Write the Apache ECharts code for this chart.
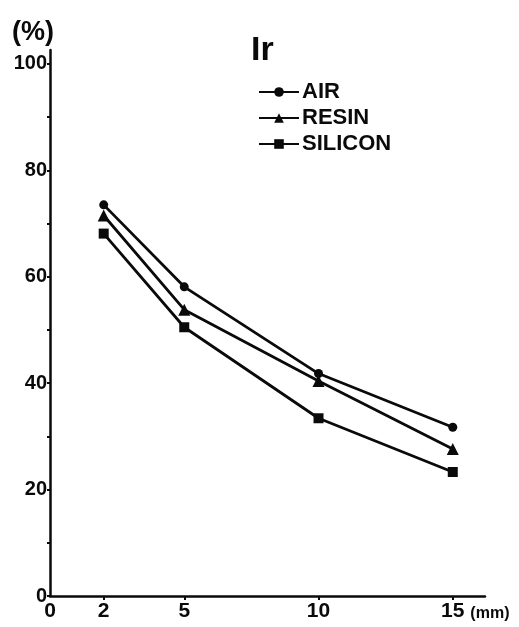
<!DOCTYPE html>
<html>
<head>
<meta charset="utf-8">
<script src="https://cdn.jsdelivr.net/npm/echarts@6/dist/echarts.min.js"></script>
<style>
html,body{margin:0;padding:0;background:#fff;}
#chart{width:519px;height:627px;}
</style>
</head>
<body>
<div id="chart"></div>
<script>
const thickness = [2, 5, 10, 15];
const airValues = [73.5, 58.1, 41.8, 31.7];
const resinValues = [71.5, 53.8, 40.4, 27.6];
const siliconValues = [68.1, 50.5, 33.4, 23.3];
const seriesNames = ['AIR', 'RESIN', 'SILICON'];
const xTickValues = [2, 5, 10, 15];
const xLabelValues = [0, 2, 5, 10, 15];
const yLabelValues = [0, 20, 40, 60, 80, 100];
const yTickValues = [0, 10, 20, 30, 40, 50, 60, 70, 80, 90, 100];

const FONT = '"Liberation Sans", Arial, sans-serif';
const INK = '#0a0a0a';

function pairs(vals) { return thickness.map((x, i) => [x, vals[i]]); }

const chart = echarts.init(document.getElementById('chart'), null, { renderer: 'canvas' });
chart.setOption({
  backgroundColor: '#fff',
  animation: false,
  title: {
    text: 'Ir',
    left: 246,
    top: 29,
    textStyle: { fontFamily: FONT, fontSize: 34, fontWeight: 'bold', color: INK }
  },
  legend: {
    orient: 'vertical',
    left: 253,
    top: 76,
    itemWidth: 40,
    itemHeight: 12,
    itemGap: 4,
    data: seriesNames,
    textStyle: { fontFamily: FONT, fontSize: 22, fontWeight: 'bold', color: INK, lineHeight: 22, padding: [0, 0, 0, -2] }
  },
  grid: { left: 50, right: 34, top: 50, bottom: 31, containLabel: false },
  xAxis: {
    type: 'value',
    min: 0,
    max: 16.2,
    name: '(mm)',
    nameLocation: 'end',
    nameGap: -16,
    nameTextStyle: { fontFamily: FONT, fontSize: 16, fontWeight: 'bold', color: INK, align: 'left', verticalAlign: 'top', padding: [10, 0, 0, 0] },
    axisLine: { lineStyle: { color: INK, width: 2.5 } },
    axisTick: { show: true, customValues: xTickValues, length: 4, lineStyle: { color: INK, width: 2 } },
    axisLabel: { customValues: xLabelValues, margin: 5, fontFamily: FONT, fontSize: 21, fontWeight: 'bold', color: INK },
    splitLine: { show: false }
  },
  yAxis: {
    type: 'value',
    min: 0,
    max: 102.6,
    name: '(%)',
    nameLocation: 'end',
    nameGap: 4,
    nameTextStyle: { fontFamily: FONT, fontSize: 27, fontWeight: 'bold', color: INK, align: 'right', verticalAlign: 'bottom', padding: [0, -4, 0, 0] },
    axisLine: { show: true, lineStyle: { color: INK, width: 2.5 } },
    axisTick: { show: true, customValues: yTickValues, length: 3, lineStyle: { color: INK, width: 2 } },
    axisLabel: { customValues: yLabelValues, margin: 3, fontFamily: FONT, fontSize: 20, fontWeight: 'bold', color: INK },
    splitLine: { show: false }
  },
  series: [
    {
      name: seriesNames[0], type: 'line', data: pairs(airValues),
      symbol: 'circle', symbolSize: 9,
      lineStyle: { color: INK, width: 2.8 }, itemStyle: { color: INK }
    },
    {
      name: seriesNames[1], type: 'line', data: pairs(resinValues),
      symbol: 'triangle', symbolSize: 12,
      lineStyle: { color: INK, width: 2.8 }, itemStyle: { color: INK }
    },
    {
      name: seriesNames[2], type: 'line', data: pairs(siliconValues),
      symbol: 'rect', symbolSize: 10,
      lineStyle: { color: INK, width: 2.8 }, itemStyle: { color: INK }
    }
  ]
});
</script>
</body>
</html>
